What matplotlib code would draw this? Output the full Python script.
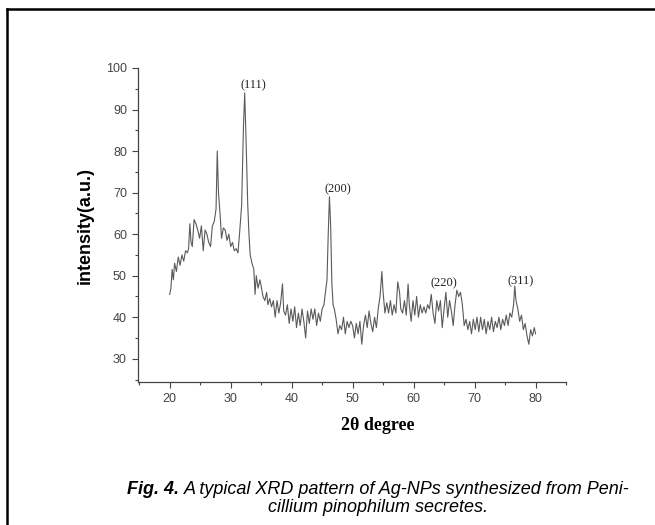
import matplotlib
matplotlib.use("Agg")
import matplotlib.pyplot as plt
from matplotlib.lines import Line2D
from matplotlib.ticker import MultipleLocator

# XRD pattern
two_theta = [
    20.0, 20.2, 20.4, 20.6, 20.8, 21.1, 21.4, 21.7, 22.0, 22.3, 22.6, 22.9,
    23.1, 23.3, 23.5, 23.7, 24.0, 24.3, 24.6, 24.9, 25.2, 25.5, 25.8, 26.1,
    26.4, 26.7, 27.0, 27.3, 27.6, 27.8, 28.0, 28.3, 28.5, 28.8, 29.1, 29.4,
    29.7, 30.0, 30.3, 30.6, 30.9, 31.2, 31.5, 31.8, 32.1, 32.3, 32.5, 32.8,
    33.0, 33.2, 33.5, 33.8, 34.0, 34.2, 34.5, 34.8, 35.0, 35.3, 35.6, 35.9,
    36.1, 36.4, 36.7, 37.0, 37.3, 37.6, 37.9, 38.2, 38.5, 38.7, 39.0, 39.3,
    39.6, 39.9, 40.2, 40.5, 40.8, 41.1, 41.4, 41.7, 42.0, 42.3, 42.6, 42.9,
    43.2, 43.5, 43.8, 44.1, 44.4, 44.7, 45.0, 45.3, 45.5, 45.8, 46.0, 46.2,
    46.4, 46.6, 46.8, 47.0, 47.3, 47.6, 47.9, 48.2, 48.5, 48.8, 49.1, 49.4,
    49.7, 50.0, 50.3, 50.6, 50.9, 51.2, 51.5, 51.8, 52.1, 52.4, 52.7, 53.0,
    53.3, 53.6, 53.9, 54.2, 54.5, 54.8, 55.0, 55.3, 55.6, 55.9, 56.2, 56.5,
    56.8, 57.1, 57.4, 57.7, 57.9, 58.2, 58.5, 58.8, 59.1, 59.3, 59.6, 59.9,
    60.2, 60.5, 60.8, 61.1, 61.4, 61.7, 62.0, 62.3, 62.6, 62.9, 63.2, 63.5,
    63.8, 64.1, 64.4, 64.7, 65.0, 65.3, 65.6, 65.9, 66.2, 66.5, 66.8, 67.1,
    67.4, 67.7, 68.0, 68.3, 68.6, 68.9, 69.2, 69.5, 69.8, 70.1, 70.4, 70.7,
    71.0, 71.3, 71.6, 71.9, 72.2, 72.5, 72.8, 73.1, 73.4, 73.7, 74.0, 74.3,
    74.6, 74.9, 75.2, 75.5, 75.8, 76.1, 76.4, 76.6, 76.8, 77.1, 77.4, 77.7,
    78.0, 78.3, 78.6, 78.9, 79.2, 79.5, 79.8, 80.0,
]
intensity = [
    45.5, 47.0, 51.5, 49.0, 53.0, 51.0, 54.5, 52.5, 55.0, 53.5, 56.0, 55.5,
    56.5, 62.5, 58.0, 57.0, 63.5, 62.5, 61.0, 59.0, 62.0, 56.0, 61.0, 60.0,
    58.0, 57.0, 62.0, 63.0, 66.0, 80.0, 70.0, 64.0, 59.0, 61.5, 61.0, 58.5,
    60.0, 57.0, 58.0, 56.0, 56.5, 55.5, 61.0, 67.0, 86.0, 94.0, 84.0, 67.0,
    60.0, 55.0, 53.0, 51.5, 45.5, 50.0, 47.0, 49.0, 47.5, 45.0, 44.0, 46.0,
    43.0, 44.5, 42.5, 44.0, 40.0, 44.0, 41.0, 43.5, 48.0, 41.5, 40.5, 43.0,
    38.5, 42.0, 39.0, 42.5, 37.5, 41.0, 38.0, 42.0, 39.0, 35.0, 41.5, 38.5,
    42.0, 39.5, 42.0, 38.0, 41.0, 39.0, 42.0, 43.0, 45.5, 49.0, 60.0, 69.0,
    62.0, 48.0, 43.0, 42.0, 39.5, 36.0, 38.0, 37.0, 40.0, 36.0, 39.0, 37.5,
    39.0, 38.0, 35.0, 38.5, 36.0, 39.0, 33.5, 38.0, 40.5, 37.5, 41.5, 38.5,
    36.5, 40.0, 37.5, 42.0, 45.0, 51.0, 46.0, 41.0, 43.5, 41.0, 44.0, 40.5,
    43.0, 41.0, 48.5, 46.0, 42.0, 41.0, 44.0, 40.5, 48.0, 43.0, 39.0, 44.0,
    40.5, 45.0, 40.0, 43.0, 41.0, 42.5, 41.0, 43.0, 42.0, 45.5, 41.0, 38.5,
    44.0, 41.5, 44.0, 37.5, 42.0, 46.0, 40.0, 44.0, 41.5, 38.0, 43.0, 46.5,
    45.0, 46.0, 43.0, 38.0, 39.5, 37.0, 39.0, 36.0, 39.5, 37.0, 40.0, 36.5,
    40.0, 37.0, 39.5, 36.0, 39.0, 37.0, 40.0, 36.5, 39.0, 37.5, 40.0, 37.0,
    39.5, 38.0, 40.5, 38.0, 41.0, 40.0, 43.0, 47.5, 44.0, 42.0, 39.0, 40.5,
    37.0, 38.5, 35.5, 33.5, 37.0, 35.5, 37.5, 36.0,
]

# Miller-index annotations
peak_labels = ["(111)", "(200)", "(220)", "(311)"]
peak_x = [33.7, 47.6, 65.0, 77.5]
peak_y = [95.9, 70.9, 48.2, 48.7]

W, H = 655, 525
fig = plt.figure(figsize=(W / 100, H / 100), dpi=100)
fig.patch.set_facecolor("white")

# the frame of the original page: only its top and left edges are in view
fig.lines.append(Line2D([7 / W, 1.0], [1 - 9 / H, 1 - 9 / H],
                        transform=fig.transFigure, color="black", lw=1.8))
fig.lines.append(Line2D([7 / W, 7 / W], [0.0, 1 - 9 / H],
                        transform=fig.transFigure, color="black", lw=1.8))

ax = fig.add_axes([138 / W, 1 - 382 / H, 428 / W, 314 / H])
ax.plot(two_theta, intensity, color="#5a5a5a", lw=0.8)

ax.set_xlim(14.8, 85)
ax.set_ylim(24.4, 100)
ax.xaxis.set_minor_locator(MultipleLocator(5))
ax.yaxis.set_minor_locator(MultipleLocator(5))
ax.set_xticks(range(20, 90, 10))
ax.set_yticks(range(30, 110, 10))
for s in ("top", "right"):
    ax.spines[s].set_visible(False)
for s in ("left", "bottom"):
    ax.spines[s].set_color("#444444")
    ax.spines[s].set_linewidth(0.9)
ax.tick_params(which="major", direction="out", length=4.5, width=0.8,
               color="#444444", labelsize=9, labelcolor="#444444")
ax.tick_params(which="minor", direction="out", length=2.5, width=0.8,
               color="#444444")
for lab in ax.get_xticklabels() + ax.get_yticklabels():
    lab.set_family("Liberation Sans")

fig.text(85 / W, 1 - 226 / H, "intensity(a.u.)", rotation=90, ha="center",
         va="center", family="Liberation Sans", fontsize=13, fontweight="bold")

for lab, x, y in zip(peak_labels, peak_x, peak_y):
    ax.text(x, y, lab, ha="center", va="center", fontsize=9,
            family="Liberation Serif", color="#222222")

fig.text(378 / W, 1 - 426 / H, "2θ degree", ha="center", va="center",
         family="Liberation Serif", fontweight="bold", fontsize=13)

# caption: bold-italic lead-in followed by italic text, centred as one line
cap_cx = 378 / W
cap_y1 = 1 - 489 / H
cap_y2 = 1 - 508 / H
t1 = fig.text(0, cap_y1, "Fig. 4. ", ha="left", va="center",
              family="Liberation Sans", fontsize=13, fontweight="bold",
              style="italic")
t2 = fig.text(0, cap_y1, "A typical XRD pattern of Ag-NPs synthesized from Peni-",
              ha="left", va="center", family="Liberation Sans", fontsize=13,
              style="italic")
fig.canvas.draw()
r = fig.canvas.get_renderer()
w1 = t1.get_window_extent(r).width / W
w2 = t2.get_window_extent(r).width / W
x0 = cap_cx - (w1 + w2) / 2
t1.set_x(x0)
t2.set_x(x0 + w1)
fig.text(cap_cx, cap_y2, "cillium pinophilum secretes.", ha="center",
         va="center", family="Liberation Sans", fontsize=13, style="italic")

fig.savefig("out.png", dpi=100, facecolor="white")
